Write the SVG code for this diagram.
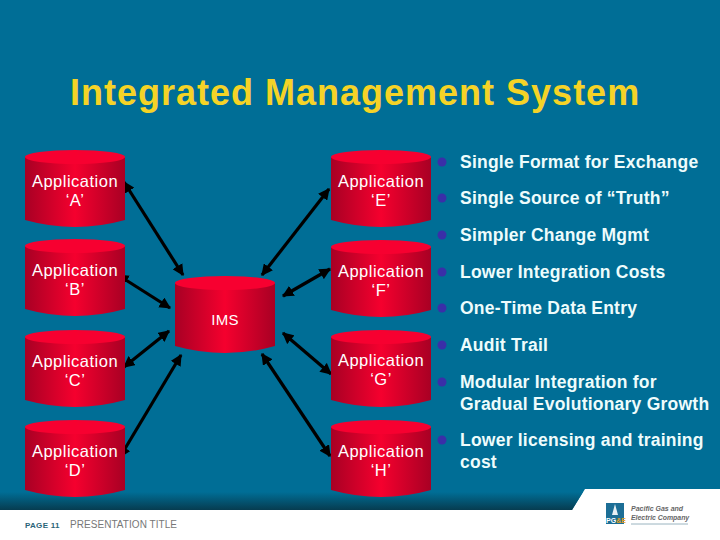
<svg xmlns="http://www.w3.org/2000/svg" width="720" height="540" viewBox="0 0 720 540">
<style>
text{font-family:"Liberation Sans",Arial,sans-serif}
.t{font-size:16.5px;fill:#fff;text-anchor:middle;letter-spacing:.5px}
.b{font-size:17.5px;font-weight:bold;fill:#eefcfc;letter-spacing:.23px}
.c{stroke:#000;stroke-width:3.2;fill:none;marker-start:url(#a);marker-end:url(#a)}
.d{fill:#3a2fa8}
</style>
<defs>
<linearGradient id="g" x1="0" x2="1" y1="0" y2="0"><stop offset="0" stop-color="#a80024"/><stop offset=".5" stop-color="#f5002e"/><stop offset="1" stop-color="#a80024"/></linearGradient>
<linearGradient id="bg" x1="0" x2="0" y1="0" y2="1"><stop offset="0" stop-color="#006e96"/><stop offset="1" stop-color="#063c50"/></linearGradient>
<marker id="a" viewBox="0 0 10 10" refX="9" refY="5" markerWidth="3.6" markerHeight="3.6" orient="auto-start-reverse"><path d="M0 0L10 5L0 10z" fill="#000"/></marker>
<g id="cyl"><path d="M0 7V70Q50 84 100 70V7z" fill="url(#g)"/><ellipse cx="50" cy="7" rx="50" ry="7" fill="#f70030"/></g>
</defs>
<rect width="720" height="540" fill="#fff"/>
<path d="M0 0H720V489H585L572 510H0z" fill="#006e96"/>
<path d="M0 492H583L572 510H0z" fill="url(#bg)"/>
<text x="70" y="105" font-size="36" font-weight="bold" fill="#f5d327" letter-spacing="1">Integrated Management System</text>
<g id="connectors">
<path class="c" d="M124 182L183 275"/><path class="c" d="M118 275L170 308"/><path class="c" d="M124 367L169 331"/><path class="c" d="M120 457L181 355"/>
<path class="c" d="M329 189L262 275"/><path class="c" d="M330 269L283 296"/><path class="c" d="M283 333L331 374"/><path class="c" d="M262 354L330 456"/>
</g>
<g id="app-a"><use href="#cyl" x="25" y="150"/><text class="t" x="75" y="187">Application</text><text class="t" x="75" y="206">‘A’</text></g>
<g id="app-b"><use href="#cyl" x="25" y="239"/><text class="t" x="75" y="276">Application</text><text class="t" x="75" y="295">‘B’</text></g>
<g id="app-c"><use href="#cyl" x="25" y="330"/><text class="t" x="75" y="367">Application</text><text class="t" x="75" y="386">‘C’</text></g>
<g id="app-d"><use href="#cyl" x="25" y="420"/><text class="t" x="75" y="457">Application</text><text class="t" x="75" y="476">‘D’</text></g>
<g id="ims"><use href="#cyl" x="175" y="276"/><text class="t" x="225" y="325" style="font-size:15px;letter-spacing:.2px">IMS</text></g>
<g id="app-e"><use href="#cyl" x="331" y="150"/><text class="t" x="381" y="187">Application</text><text class="t" x="381" y="206">‘E’</text></g>
<g id="app-f"><use href="#cyl" x="331" y="240"/><text class="t" x="381" y="277">Application</text><text class="t" x="381" y="296">‘F’</text></g>
<g id="app-g"><use href="#cyl" x="331" y="330"/><text class="t" x="381" y="366">Application</text><text class="t" x="381" y="385">‘G’</text></g>
<g id="app-h"><use href="#cyl" x="331" y="420"/><text class="t" x="381" y="457">Application</text><text class="t" x="381" y="476">‘H’</text></g>
<g id="bullets">
<circle class="d" cx="442" cy="162" r="4.5"/><text class="b" x="460" y="168">Single Format for Exchange</text>
<circle class="d" cx="442" cy="198" r="4.5"/><text class="b" x="460" y="204">Single Source of “Truth”</text>
<circle class="d" cx="442" cy="235" r="4.5"/><text class="b" x="460" y="241">Simpler Change Mgmt</text>
<circle class="d" cx="442" cy="272" r="4.5"/><text class="b" x="460" y="278">Lower Integration Costs</text>
<circle class="d" cx="442" cy="308" r="4.5"/><text class="b" x="460" y="314">One-Time Data Entry</text>
<circle class="d" cx="442" cy="345" r="4.5"/><text class="b" x="460" y="351">Audit Trail</text>
<circle class="d" cx="442" cy="382" r="4.5"/><text class="b" x="460" y="388">Modular Integration for</text><text class="b" x="460" y="410">Gradual Evolutionary Growth</text>
<circle class="d" cx="442" cy="440" r="4.5"/><text class="b" x="460" y="446">Lower licensing and training</text><text class="b" x="460" y="468">cost</text>
</g>
<g id="footer">
<text x="25" y="528" font-size="8" font-weight="bold" fill="#2a6478" letter-spacing=".3">PAGE 11</text>
<text x="70" y="528" font-size="10" fill="#777" letter-spacing=".05">PRESENTATION TITLE</text>
</g>
<g id="logo">
<rect x="606" y="503" width="18" height="21" fill="#1c6e96"/>
<path d="M615 504L612 515H618z" fill="#e6f0f4"/>
<text x="606" y="523" font-size="7" font-weight="bold" fill="#fff">PG<tspan fill="#e8a020">&amp;E</tspan></text>
<text x="631" y="511" font-size="7" font-weight="bold" font-style="italic" fill="#666">Pacific Gas and</text>
<text x="631" y="520" font-size="6.9" font-weight="bold" font-style="italic" fill="#666">Electric Company</text>
<path d="M631 524H688" stroke="#9ab4c0"/>
</g>
</svg>
